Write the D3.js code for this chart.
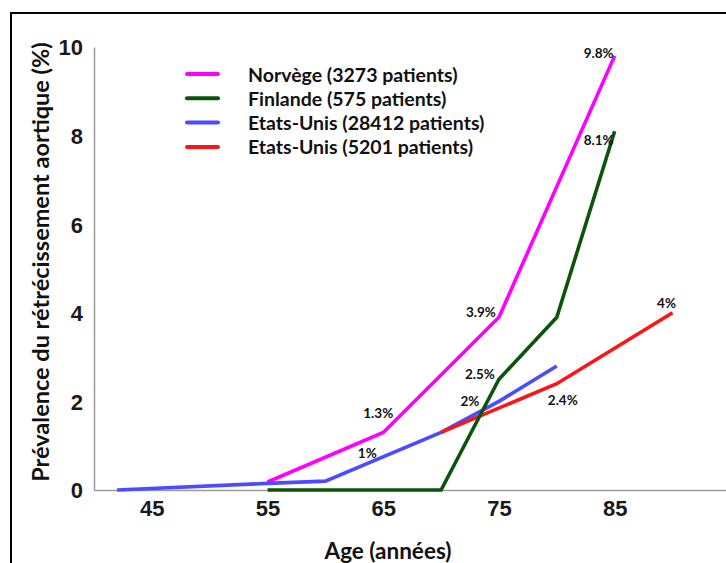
<!DOCTYPE html>
<html><head><meta charset="utf-8">
<script src="https://cdn.jsdelivr.net/npm/d3@7"></script>
<style>body{margin:0;background:#fff}svg{display:block}</style>
</head><body>
<script>
// ---- data ----
const xTicks = [45, 55, 65, 75, 85];
const yTicks = [0, 2, 4, 6, 8, 10];
const seriesNames = ["Norvège (3273 patients)", "Finlande (575 patients)", "Etats-Unis (28412 patients)", "Etats-Unis (5201 patients)"];
const seriesColors = ["#ff00ff", "#0b550b", "#4b4bff", "#ff1414"];
const norvegeAge = [55, 65, 75, 85];
const norvegeVal = [0.18, 1.3, 3.9, 9.8];
const finlandeAge = [55, 70, 75, 80, 85];
const finlandeVal = [0, 0, 2.5, 3.9, 8.1];
const usa1Age = [42, 55, 60, 70, 75, 80];
const usa1Val = [0, 0.15, 0.2, 1.3, 2.0, 2.8];
const usa2Age = [70, 80, 90];
const usa2Val = [1.3, 2.4, 4.0];
const labelText = ["9.8%", "8.1%", "3.9%", "2.5%", "2%", "2.4%", "4%", "1.3%", "1%"];
const labelAge  = [85, 85, 75, 75, 75, 80, 90, 65, 65];
const labelVal  = [9.8, 8.1, 3.9, 2.5, 2.0, 2.4, 4.0, 1.3, 1.0];
const labelDx   = [-16, -16, -18, -19, -29, 6, -6, -5, -16];
const labelDy   = [-3, 9, -5, -5, 0, 16, -10, -19, 7];

const W = 726, H = 563;
const svg = d3.select("body").append("svg").attr("width", W).attr("height", H);

// frame
svg.append("rect").attr("x", 11).attr("y", 13).attr("width", 800).attr("height", 700)
  .attr("fill", "none").attr("stroke", "#000").attr("stroke-width", 2);

const x = d3.scaleLinear().domain([40, 95]).range([94, 94 + 55 * 11.57]);
const y = d3.scaleLinear().domain([0, 10]).range([490, 47]);

// axes
const xAxis = svg.append("g").attr("transform", `translate(0,${y(0)})`)
  .call(d3.axisBottom(x).tickValues(xTicks).tickSize(0).tickPadding(10));
const yAxis = svg.append("g").attr("transform", `translate(${x(40)},0)`)
  .call(d3.axisLeft(y).tickValues(yTicks).tickSize(0).tickPadding(11));
[xAxis, yAxis].forEach(a => {
  a.select(".domain").attr("stroke", "#9a9a9a").attr("stroke-width", 1.5);
  a.selectAll("text").attr("font-family", "'Liberation Sans', Arial, sans-serif")
    .attr("font-weight", "bold").attr("font-size", 22).attr("fill", "#1a1a1a");
});
xAxis.selectAll("text").attr("dy", "0.72em");
yAxis.selectAll("text").attr("dy", "0.36em");

// lines
const series = [
  {age: norvegeAge, val: norvegeVal, c: 0},
  {age: usa1Age, val: usa1Val, c: 2},
  {age: usa2Age, val: usa2Val, c: 3},
  {age: finlandeAge, val: finlandeVal, c: 1}
];
const line = d3.line().x(d => x(d[0])).y(d => y(d[1]));
series.forEach(s => {
  svg.append("path").datum(s.age.map((a, i) => [a, s.val[i]]))
    .attr("d", line).attr("fill", "none").attr("stroke", seriesColors[s.c])
    .attr("stroke-width", 3.6).attr("stroke-linejoin", "miter");
});

// data labels
svg.append("g").selectAll("text").data(labelText).join("text")
  .attr("x", (d, i) => x(labelAge[i]) + labelDx[i])
  .attr("y", (d, i) => y(labelVal[i]) + labelDy[i])
  .attr("text-anchor", "middle").attr("dominant-baseline", "central")
  .attr("font-family", "Lato, 'Open Sans', sans-serif").attr("font-weight", "bold")
  .attr("font-size", 13.5).attr("fill", "#111").text(d => d);

// legend
const lg = svg.append("g").attr("transform", "translate(187,74)");
seriesNames.forEach((n, i) => {
  lg.append("line").attr("x1", 0).attr("x2", 31).attr("y1", i * 24.3).attr("y2", i * 24.3)
    .attr("stroke", seriesColors[i]).attr("stroke-width", 4).attr("stroke-linecap", "round");
  lg.append("text").attr("x", 61).attr("y", i * 24.3).attr("dominant-baseline", "central")
    .attr("font-family", "Lato, 'Open Sans', sans-serif").attr("font-weight", "bold")
    .attr("font-size", 19.5).attr("fill", "#111").text(n);
});

// axis titles
svg.append("text").attr("x", 388).attr("y", 550).attr("text-anchor", "middle")
  .attr("dominant-baseline", "central")
  .attr("font-family", "Lato, 'Open Sans', sans-serif").attr("font-weight", "bold")
  .attr("font-size", 22.5).attr("fill", "#111").text("Age (années)");
svg.append("text").attr("transform", "translate(40,262) rotate(-90)").attr("text-anchor", "middle")
  .attr("dominant-baseline", "central")
  .attr("font-family", "Lato, 'Open Sans', sans-serif").attr("font-weight", "bold")
  .attr("font-size", 23.5).attr("fill", "#111").text("Prévalence du rétrécissement aortique (%)");
</script>
</body></html>
